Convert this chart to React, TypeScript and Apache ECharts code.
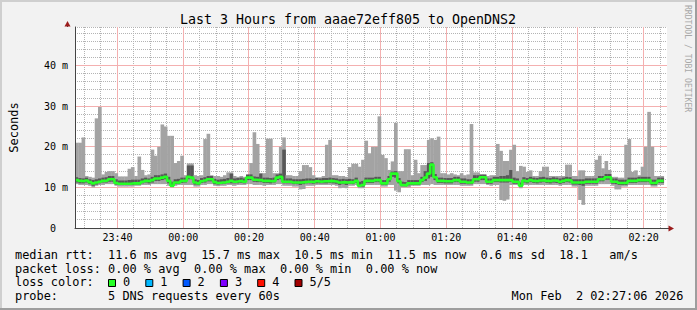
import React, { useEffect, useRef } from 'react';
import * as echarts from 'echarts';

// x values are minutes after 23:00 (23:27:06 -> 27.1)
const START = 27.1;
const END = 207.1;
const xMajorTicks = [40, 60, 80, 100, 120, 140, 160, 180, 200];
const xTickLabels = ['23:40', '00:00', '00:20', '00:40', '01:00', '01:20', '01:40', '02:00', '02:20'];
const xMinorTicks = [30, 35, 45, 50, 55, 65, 70, 75, 85, 90, 95, 105, 110, 115, 125, 130, 135, 145, 150, 155, 165, 170, 175, 185, 190, 195, 205];
const yMajorTicks = [0, 10, 20, 30, 40];
const yTickLabels = ['0', '10 m', '20 m', '30 m', '40 m'];
const yMinorTicks = [2, 4, 6, 8, 12, 14, 16, 18, 22, 24, 26, 28, 32, 34, 36, 38, 42, 44, 46, 48, 49.5];
const Y_MAX = 49.5;

// per-minute samples (ms): median, min, 2nd, 4th, max of 5 pings
const median = [
  11.8, 11.6, 11.5, 11.7, 11.3, 11.0, 11.2, 11.4, 11.6, 11.7,
  12.0, 12.0, 11.1, 10.9, 10.9, 10.9, 10.9, 11.0, 11.0, 11.0,
  11.4, 11.6, 11.5, 11.8, 12.2, 12.2, 12.4, 12.6, 11.6, 10.4,
  11.2, 11.2, 11.6, 11.6, 12.6, 12.4, 11.2, 11.0, 11.5, 11.7,
  12.0, 12.0, 11.3, 11.1, 11.2, 11.2, 11.4, 11.6, 11.4, 11.5,
  11.6, 11.4, 12.4, 12.4, 11.9, 11.8, 11.8, 11.6, 11.6, 11.5,
  11.6, 12.4, 12.6, 11.4, 11.4, 11.4, 11.2, 11.2, 11.2, 11.3,
  11.4, 11.4, 11.3, 11.5, 11.4, 11.5, 11.5, 11.6, 11.5, 11.4,
  11.2, 11.3, 11.2, 11.3, 11.2, 11.6, 10.4, 10.6, 11.6, 11.6,
  11.6, 11.8, 11.8, 11.0, 11.0, 12.0, 13.4, 13.4, 11.5, 10.6,
  10.5, 11.0, 11.0, 11.0, 11.0, 11.8, 12.4, 13.4, 15.6, 12.5,
  11.6, 11.6, 11.5, 11.5, 11.5, 11.8, 11.8, 11.4, 11.4, 11.2,
  11.2, 12.0, 12.0, 12.5, 12.5, 11.4, 11.4, 11.8, 11.8, 11.8,
  11.8, 11.8, 11.8, 11.4, 11.4, 10.4, 11.7, 11.5, 11.8, 11.6,
  11.5, 11.7, 11.8, 11.6, 11.5, 11.7, 11.6, 11.4, 11.6, 11.8,
  11.7, 11.2, 11.2, 11.2, 11.2, 11.4, 11.4, 11.4, 11.4, 12.0,
  12.0, 12.5, 12.5, 11.4, 11.4, 11.1, 11.1, 11.1, 11.6, 11.6,
  11.6, 11.8, 11.8, 11.8, 11.8, 11.1, 11.1, 11.6, 11.6,
];
const pingMax = [
  21.0, 21.0, 22.3, 12.8, 12.6, 12.4, 27.0, 29.8, 13.2, 13.8,
  14.0, 14.0, 13.5, 12.7, 12.7, 12.7, 14.6, 15.0, 12.8, 17.6,
  14.3, 13.0, 13.2, 19.3, 17.8, 20.0, 25.5, 25.0, 22.7, 22.7,
  16.0, 16.5, 17.8, 13.0, 15.9, 15.9, 13.0, 12.8, 13.0, 21.9,
  23.2, 13.0, 12.8, 12.8, 12.6, 13.0, 13.7, 13.7, 12.8, 12.6,
  12.8, 12.6, 13.0, 16.0, 23.6, 20.7, 13.5, 13.5, 22.0, 22.0,
  13.5, 13.5, 20.0, 22.3, 13.0, 13.0, 12.8, 12.8, 14.0, 15.5,
  15.5, 15.0, 13.0, 12.5, 12.5, 12.8, 20.5, 21.7, 13.0, 13.0,
  12.8, 12.8, 12.6, 15.0, 15.8, 15.8, 15.1, 16.8, 21.5, 18.4,
  20.0, 20.0, 27.5, 18.0, 17.2, 14.3, 16.4, 25.9, 14.0, 14.0,
  19.4, 19.4, 13.0, 16.8, 13.5, 15.5, 15.5, 21.7, 22.1, 21.7,
  22.5, 13.5, 13.5, 13.2, 13.5, 13.2, 13.0, 13.5, 13.0, 13.2,
  25.6, 13.7, 13.7, 13.0, 13.0, 12.8, 13.0, 13.0, 20.7, 19.0,
  16.5, 16.5, 19.3, 20.5, 14.0, 15.3, 15.1, 13.8, 14.2, 12.8,
  12.8, 14.0, 15.1, 15.1, 12.8, 12.8, 12.8, 12.8, 12.8, 15.6,
  15.6, 12.8, 12.8, 14.2, 14.2, 12.8, 12.8, 12.8, 16.8, 17.8,
  14.7, 16.5, 14.3, 12.6, 12.6, 12.4, 12.4, 20.5, 21.9, 13.8,
  14.2, 13.0, 15.1, 20.0, 28.6, 20.0, 12.8, 12.8, 12.8,
];
const pingMin = [
  10.8, 10.6, 10.6, 10.6, 10.4, 10.0, 10.4, 10.6, 10.6, 10.8,
  10.8, 10.8, 10.4, 10.2, 10.2, 10.2, 10.2, 10.2, 10.4, 10.4,
  10.6, 10.6, 10.6, 10.8, 10.8, 10.8, 10.8, 10.8, 10.4, 10.0,
  10.4, 10.6, 10.6, 10.6, 10.6, 10.6, 10.2, 10.2, 10.6, 10.6,
  10.8, 10.8, 10.4, 10.3, 10.4, 10.4, 10.6, 10.6, 10.4, 10.6,
  10.6, 10.6, 10.8, 10.8, 10.6, 10.6, 10.6, 10.4, 10.6, 10.6,
  10.6, 10.8, 10.8, 10.4, 10.4, 10.4, 10.2, 10.2, 9.5, 9.6,
  10.4, 10.4, 10.4, 10.6, 10.6, 10.6, 10.6, 10.6, 10.6, 10.4,
  9.8, 9.9, 9.8, 10.4, 10.4, 10.6, 9.8, 9.8, 10.6, 10.6,
  10.6, 10.6, 10.6, 10.2, 10.2, 10.6, 10.6, 9.2, 8.8, 10.0,
  10.0, 10.0, 10.4, 10.4, 10.4, 10.6, 10.6, 10.6, 10.8, 10.6,
  10.6, 10.6, 10.6, 10.6, 10.6, 10.6, 10.6, 10.4, 10.4, 10.4,
  10.4, 10.8, 10.8, 10.8, 10.8, 10.6, 10.4, 10.6, 10.6, 6.9,
  6.7, 7.0, 10.6, 10.6, 10.6, 9.8, 10.6, 10.6, 10.6, 10.6,
  10.6, 10.6, 10.6, 10.6, 10.6, 10.6, 10.6, 10.4, 10.6, 10.6,
  10.6, 10.2, 10.2, 6.9, 5.7, 10.4, 10.4, 10.4, 10.4, 10.8,
  10.8, 10.8, 10.8, 10.4, 9.5, 9.5, 10.2, 10.2, 10.6, 10.6,
  10.6, 10.6, 10.6, 10.6, 10.6, 10.2, 10.2, 10.6, 10.6,
];
const pingLow = [
  11.2, 11.0, 11.0, 11.2, 10.8, 10.4, 10.7, 11.0, 11.2, 11.2,
  11.4, 11.4, 10.7, 10.6, 10.6, 10.6, 10.6, 10.6, 10.7, 10.7,
  11.0, 11.2, 11.0, 11.2, 11.6, 11.6, 11.8, 12.0, 11.0, 10.3,
  10.8, 10.9, 11.1, 11.2, 12.0, 12.0, 10.7, 10.6, 11.1, 11.2,
  11.5, 11.5, 10.8, 10.7, 10.8, 10.9, 11.0, 11.0, 11.0, 11.0,
  11.1, 11.0, 11.8, 11.8, 11.4, 11.3, 11.3, 11.1, 11.1, 11.0,
  11.2, 11.8, 12.0, 11.0, 11.0, 11.0, 10.8, 10.8, 10.6, 10.8,
  11.0, 11.0, 10.9, 11.0, 11.0, 11.0, 11.0, 11.1, 11.0, 10.9,
  10.6, 10.8, 10.6, 10.9, 10.8, 11.1, 10.2, 10.2, 11.1, 11.1,
  11.1, 11.3, 11.3, 10.6, 10.6, 11.4, 12.6, 12.4, 11.0, 10.3,
  10.3, 10.5, 10.6, 10.6, 10.6, 11.3, 11.6, 12.2, 12.6, 11.8,
  11.1, 11.1, 11.0, 11.0, 11.0, 11.3, 11.3, 10.9, 10.9, 10.8,
  10.8, 11.4, 11.4, 11.8, 11.8, 10.9, 10.9, 11.3, 11.3, 11.2,
  11.2, 11.2, 11.3, 10.9, 10.9, 10.2, 11.2, 11.0, 11.3, 11.1,
  11.0, 11.2, 11.3, 11.1, 11.0, 11.2, 11.1, 10.9, 11.1, 11.3,
  11.2, 10.7, 10.7, 10.6, 10.4, 10.9, 10.9, 10.9, 10.9, 11.5,
  11.5, 11.9, 11.9, 10.9, 10.8, 10.6, 10.6, 10.6, 11.1, 11.1,
  11.1, 11.3, 11.3, 11.3, 11.3, 10.6, 10.6, 11.1, 11.1,
];
const pingHigh = [
  12.5, 12.3, 12.2, 12.4, 12.0, 11.8, 12.0, 12.2, 12.4, 12.5,
  12.8, 12.8, 12.0, 11.7, 11.7, 11.7, 11.8, 11.9, 11.9, 11.9,
  12.2, 12.4, 12.2, 12.6, 13.0, 13.0, 13.2, 13.4, 12.6, 11.4,
  12.0, 12.1, 12.4, 12.4, 15.4, 15.4, 12.0, 11.8, 12.3, 12.5,
  12.8, 12.8, 12.1, 11.9, 12.0, 12.1, 12.3, 13.4, 12.2, 12.3,
  12.4, 12.2, 13.2, 13.2, 12.7, 12.6, 13.4, 12.4, 12.4, 12.3,
  12.4, 13.2, 13.4, 19.3, 12.2, 12.2, 12.0, 12.0, 12.0, 12.1,
  12.2, 12.2, 12.1, 12.3, 12.2, 12.3, 12.3, 12.4, 12.3, 12.2,
  12.0, 12.1, 12.0, 12.1, 12.0, 12.4, 11.4, 11.6, 12.4, 12.4,
  12.4, 12.6, 12.6, 11.8, 11.8, 12.8, 13.9, 14.0, 12.3, 11.4,
  11.3, 11.8, 11.8, 11.8, 11.8, 12.6, 14.0, 16.0, 16.2, 13.3,
  12.4, 12.4, 12.3, 12.3, 12.3, 12.6, 12.6, 12.2, 12.2, 12.0,
  12.0, 13.0, 13.0, 13.2, 13.2, 12.2, 12.2, 12.6, 12.6, 12.8,
  12.8, 13.0, 14.3, 12.4, 12.2, 11.2, 12.5, 12.3, 12.6, 12.4,
  12.3, 12.5, 12.6, 12.4, 12.3, 12.5, 12.4, 12.2, 12.4, 12.6,
  12.5, 12.0, 12.0, 12.0, 12.0, 12.2, 12.2, 12.2, 12.2, 12.8,
  12.8, 13.3, 13.3, 12.2, 12.2, 11.9, 11.9, 11.9, 12.4, 12.4,
  12.4, 12.6, 12.6, 12.6, 12.6, 11.9, 11.9, 12.4, 12.4,
];

const lossLabels = ['0', '1', '2', '3', '4', '5/5'];
const lossColors = ['#26ff26', '#00b8ff', '#0059ff', '#7e00ff', '#ff1000', '#a10000'];

const TITLE = 'Last 3 Hours from aaae72eff805 to OpenDNS2';
const legendLines = [
  'median rtt:  11.6 ms avg  15.7 ms max  10.5 ms min  11.5 ms now  0.6 ms sd  18.1   am/s',
  'packet loss: 0.00 % avg  0.00 % max  0.00 % min  0.00 % now',
  'loss color:',
  'probe:       5 DNS requests every 60s',
];
const DATE_TEXT = 'Mon Feb  2 02:27:06 2026';

const FONT = 'DejaVu Sans Mono';
const LIGHT = '#a3a3a3';
const DARK = '#575757';
const GREEN = '#26ff26';
const MAJOR_GRID = '#f4b0b0';
const MINOR_GRID = '#b4b4b4';

function tokenize(line: string) {
  const out: { t: string; n: number }[] = [];
  const re = /\S+(?: \S+)*/g;
  let m: RegExpExecArray | null;
  while ((m = re.exec(line))) out.push({ t: m[0], n: m.index });
  return out;
}

function gridSeries(values: number[], vertical: boolean, color: string, dash: number[] | null) {
  return {
    type: 'custom',
    xAxisIndex: 0,
    yAxisIndex: 0,
    silent: true,
    z: 1,
    clip: false,
    data: values.map((v) => (vertical ? [v, 0] : [START, v])),
    encode: { x: 0, y: 1 },
    renderItem: (params: any, api: any) => {
      const cs = params.coordSys;
      const p = api.coord([api.value(0), api.value(1)]);
      const style: any = { stroke: color, lineWidth: 1 };
      if (dash) style.lineDash = dash;
      if (vertical) {
        const x = Math.floor(p[0]) + 0.5;
        return { type: 'line', shape: { x1: x, y1: cs.y, x2: x, y2: cs.y + cs.height }, style };
      }
      const y = Math.floor(p[1]) + 0.5;
      return { type: 'line', shape: { x1: cs.x, y1: y, x2: cs.x + cs.width, y2: y }, style };
    },
  };
}

export default function App() {
  const ref = useRef<HTMLDivElement>(null);
  useEffect(() => {
    document.body.style.margin = '0';
    const chart = echarts.init(ref.current!, null, { renderer: 'svg' });

    const smokeRows = median.map((_, i) => [START + i, pingMin[i], pingLow[i], pingHigh[i], pingMax[i]]);
    const medLine: number[][] = median.map((v, i) => [START + i, v]);
    medLine.push([START + median.length, median[median.length - 1]]);

    const CW = 7.16;
    const LX = 15;
    const lineY = [255, 268.7, 282.4, 296.1];
    const graphics: any[] = [];
    graphics.push(
      { type: 'rect', shape: { x: 0, y: 0, width: 697, height: 2 }, style: { fill: '#cfcfcf' }, silent: true },
      { type: 'rect', shape: { x: 0, y: 0, width: 2, height: 310 }, style: { fill: '#cfcfcf' }, silent: true },
      { type: 'rect', shape: { x: 0, y: 308, width: 697, height: 2 }, style: { fill: '#9e9e9e' }, silent: true },
      { type: 'rect', shape: { x: 695, y: 0, width: 2, height: 310 }, style: { fill: '#9e9e9e' }, silent: true },
    );
    graphics.push(
      { type: 'line', shape: { x1: 67.5, y1: 27, x2: 67.5, y2: 23 }, style: { stroke: '#444', lineWidth: 1 }, silent: true },
      { type: 'polygon', shape: { points: [[64.5, 26.5], [70.5, 26.5], [67.5, 21]] }, style: { fill: '#9b1c1c' }, silent: true },
      { type: 'line', shape: { x1: 667, y1: 228.5, x2: 670, y2: 228.5 }, style: { stroke: '#444', lineWidth: 1 }, silent: true },
      { type: 'polygon', shape: { points: [[668.5, 225.5], [668.5, 231.5], [674, 228.5]] }, style: { fill: '#9b1c1c' }, silent: true },
    );
    graphics.push({
      type: 'text', x: 348, y: 19,
      style: { text: TITLE, fontFamily: FONT, fontSize: 13.3, fill: '#000', align: 'center', verticalAlign: 'middle' },
      silent: true,
    });
    graphics.push({
      type: 'text', x: 688, y: 5, rotation: -Math.PI / 2,
      style: { text: 'RRDTOOL / TOBI OETIKER', fontFamily: FONT, fontSize: 8.1, fill: '#a8a8a8', align: 'left', verticalAlign: 'middle' },
      silent: true,
    });
    legendLines.forEach((line, li) => {
      tokenize(line).forEach(({ t, n }) => {
        graphics.push({
          type: 'text', x: LX + n * CW, y: lineY[li],
          style: { text: t, fontFamily: FONT, fontSize: 11.9, fill: '#000', align: 'left', verticalAlign: 'middle' },
          silent: true,
        });
      });
    });
    lossLabels.forEach((lab, i) => {
      const bx = 108.5 + i * 37.3;
      graphics.push({
        type: 'rect', shape: { x: bx, y: 279.5, width: 7, height: 7 },
        style: { fill: lossColors[i], stroke: '#000', lineWidth: 1 }, silent: true,
      });
      graphics.push({
        type: 'text', x: bx + 14.5, y: lineY[2],
        style: { text: lab, fontFamily: FONT, fontSize: 11.9, fill: '#000', align: 'left', verticalAlign: 'middle' },
        silent: true,
      });
    });
    tokenize(DATE_TEXT).forEach(({ t, n }) => {
      graphics.push({
        type: 'text', x: 511.5 + n * CW, y: lineY[3],
        style: { text: t, fontFamily: FONT, fontSize: 11.9, fill: '#000', align: 'left', verticalAlign: 'middle' },
        silent: true,
      });
    });

    chart.setOption({
      animation: false,
      backgroundColor: '#f2f2f2',
      textStyle: { fontFamily: FONT },
      grid: { left: 67, right: 30, top: 27, bottom: 82, show: true, backgroundColor: '#ffffff', borderWidth: 0 },
      xAxis: {
        type: 'value', min: START, max: END, position: 'bottom',
        axisLine: { show: true, lineStyle: { color: '#444', width: 1 } },
        axisTick: { show: false, customValues: xMajorTicks },
        axisLabel: {
          customValues: xMajorTicks, margin: 4, fontFamily: FONT, fontSize: 10, color: '#000',
          formatter: (v: number) => xTickLabels[xMajorTicks.indexOf(v)] ?? '',
        },
        splitLine: { show: false },
        z: 10,
      },
      yAxis: {
        type: 'value', min: 0, max: Y_MAX, position: 'left',
        name: 'Seconds', nameLocation: 'middle', nameGap: 55, nameRotate: 90,
        nameTextStyle: { fontFamily: FONT, fontSize: 12, color: '#000' },
        axisLine: { show: true, lineStyle: { color: '#444', width: 1 } },
        axisTick: { show: false, customValues: yMajorTicks },
        axisLabel: {
          customValues: yMajorTicks, margin: 7, fontFamily: FONT, fontSize: 10, color: '#000',
          formatter: (v: number) => {
            const idx = yMajorTicks.indexOf(v);
            if (idx < 0) return '';
            return v === 0 ? '{z|' + yTickLabels[idx] + '}' : yTickLabels[idx];
          },
          rich: { z: { fontFamily: FONT, fontSize: 10, color: '#000', padding: [0, 12, 0, 0] } },
        },
        splitLine: { show: false },
        z: 10,
      },
      series: [
        gridSeries(yMinorTicks, false, MINOR_GRID, [1, 1]),
        gridSeries(xMinorTicks, true, MINOR_GRID, [1, 1]),
        gridSeries(yMajorTicks.filter((v) => v > 0), false, MAJOR_GRID, null),
        gridSeries(xMajorTicks, true, MAJOR_GRID, null),
        {
          type: 'custom',
          data: smokeRows,
          encode: { x: 0, y: [1, 2, 3, 4] },
          clip: true,
          silent: true,
          z: 2,
          renderItem: (params: any, api: any) => {
            const x0 = api.value(0);
            const pMin = api.coord([x0, api.value(1)]);
            const pLo = api.coord([x0, api.value(2)]);
            const pHi = api.coord([x0 + 1, api.value(3)]);
            const pMax = api.coord([x0 + 1, api.value(4)]);
            const left = pMin[0];
            const w = pMax[0] - left + 0.35;
            return {
              type: 'group',
              children: [
                { type: 'rect', shape: { x: left, y: pMax[1], width: w, height: pMin[1] - pMax[1] }, style: { fill: LIGHT } },
                { type: 'rect', shape: { x: left, y: pHi[1], width: w, height: pLo[1] - pHi[1] }, style: { fill: DARK } },
              ],
            };
          },
        },
        {
          type: 'line',
          data: medLine,
          step: 'end',
          showSymbol: false,
          symbol: 'none',
          silent: true,
          lineStyle: { color: GREEN, width: 2.6 },
          z: 3,
        },
      ],
      graphic: graphics,
    });
    return () => chart.dispose();
  }, []);
  return <div ref={ref} style={{ width: 697, height: 310 }} />;
}
